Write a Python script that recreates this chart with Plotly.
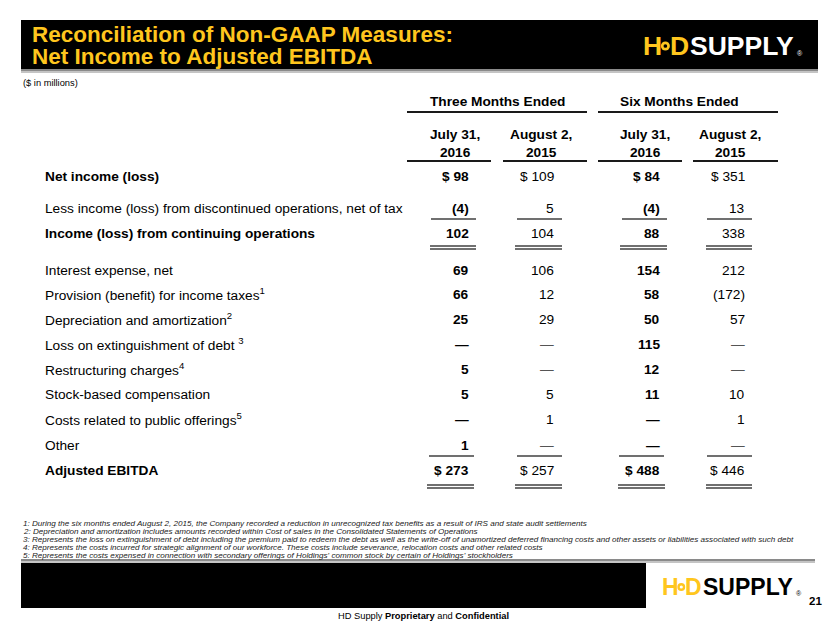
import plotly.graph_objects as go

# ---------------- data ----------------
title_lines = ["Reconciliation of Non-GAAP Measures:", "Net Income to Adjusted EBITDA"]
units_note = "($ in millions)"
group_headers = ["Three Months Ended", "Six Months Ended"]
col_headers = ["July 31,<br>2016", "August 2,<br>2015", "July 31,<br>2016", "August 2,<br>2015"]
col_bold = [True, False, True, False]

row_labels = [
    "Net income (loss)",
    "Less income (loss) from discontinued operations, net of tax",
    "Income (loss) from continuing operations",
    "Interest expense, net",
    "Provision (benefit) for income taxes<sup>1</sup>",
    "Depreciation and amortization<sup>2</sup>",
    "Loss on extinguishment of debt <sup>3</sup>",
    "Restructuring charges<sup>4</sup>",
    "Stock-based compensation",
    "Costs related to public offerings<sup>5</sup>",
    "Other",
    "Adjusted EBITDA",
]
row_bold = [True, False, True, False, False, False, False, False, False, False, False, True]

q3_2016 = ["$ 98", "(4)", "102", "69", "66", "25", "—", "5", "5", "—", "1", "$ 273"]
q3_2015 = ["$ 109", "5", "104", "106", "12", "29", "—", "—", "5", "1", "—", "$ 257"]
h1_2016 = ["$ 84", "(4)", "88", "154", "58", "50", "115", "12", "11", "—", "—", "$ 488"]
h1_2015 = ["$ 351", "13", "338", "212", "(172)", "57", "—", "—", "10", "1", "—", "$ 446"]
columns = [q3_2016, q3_2015, h1_2016, h1_2015]

footnotes = [
    "1: During the six months ended August 2, 2015, the Company recorded a reduction in unrecognized tax benefits as a result of IRS and state audit settlements",
    "2: Depreciation and amortization includes amounts recorded within Cost of sales in the Consolidated Statements of Operations",
    "3: Represents the loss on extinguishment of debt including the premium paid to redeem the debt as well as the write-off of unamortized deferred financing costs and other assets or liabilities associated with such debt",
    "4: Represents the costs incurred for strategic alignment of our workforce. These costs include severance, relocation costs and other related costs",
    "5: Represents the costs expensed in connection with secondary offerings of Holdings' common stock by certain of Holdings' stockholders",
]
footer_text = "HD Supply <b>Proprietary</b> and <b>Confidential</b>"
page_number = "21"

# ---------------- layout constants ----------------
W, H = 830, 623
FONT = "Liberation Sans, Arial, sans-serif"
YELLOW = "#FFC61E"
row_y = [176, 208, 233, 270, 294, 319, 344, 369, 394, 419, 445, 470]
col_right = [470, 555, 661, 746]
col_center = [455, 541, 645, 730]
group_center = [497, 679]
label_x = 44

fig = go.Figure()
fig.add_trace(go.Scatter(x=[0], y=[0], mode="markers", marker=dict(opacity=0), hoverinfo="skip", showlegend=False))

shapes = []
ann = []

def rect(x0, y0, x1, y1, color):
    shapes.append(dict(type="rect", xref="x", yref="y", x0=x0, x1=x1, y0=y0, y1=y1,
                       fillcolor=color, line=dict(width=0), layer="below"))

def hline(x0, x1, y, color="#404040", width=1.3):
    shapes.append(dict(type="line", xref="x", yref="y", x0=x0, x1=x1, y0=y, y1=y,
                       line=dict(color=color, width=width)))

def text(x, y, s, size, color="#000", xanchor="left", bold=False, italic=False, yanchor="middle", align="left"):
    if bold:
        s = "<b>" + s + "</b>"
    if italic:
        s = "<i>" + s + "</i>"
    ann.append(dict(x=x, y=y, xref="x", yref="y", text=s, showarrow=False, xanchor=xanchor,
                    yanchor=yanchor, align=align, borderpad=0,
                    font=dict(family=FONT, size=size, color=color)))

# title bar
rect(21, 20, 818, 69, "#000000")
rect(21, 69, 818, 71, "#8a8a8a")
rect(21, 71, 818, 73, "#c4c4c4")
text(31, 34, title_lines[0], 22.5, YELLOW, bold=True)
text(31, 56, title_lines[1], 22.5, YELLOW, bold=True)

def logo(xh, y, size, word_color, ring_bg):
    text(xh, y, "H", size, YELLOW, bold=True)
    hw = 0.722 * size
    cx = xh + hw + size * 0.16
    r = size * 0.17
    shapes.append(dict(type="circle", xref="x", yref="y", x0=cx - r, x1=cx + r, y0=y - r, y1=y + r,
                       fillcolor=YELLOW, line=dict(width=0)))
    r2 = size * 0.07
    shapes.append(dict(type="circle", xref="x", yref="y", x0=cx - r2, x1=cx + r2, y0=y - r2, y1=y + r2,
                       fillcolor=ring_bg, line=dict(width=0)))
    dx = cx + size * 0.12
    text(dx, y, "D", size, YELLOW, bold=True)
    sx = dx + 0.722 * size + 1
    text(sx, y, "SUPPLY", size, word_color, bold=True)
    text(sx + 4.0 * size + 1, y + size * 0.3, "®", 7, word_color)

logo(642, 46, 26.5, "#ffffff", "#000000")

text(22, 83, units_note, 9.3)

# group headers
for c, g in zip(group_center, group_headers):
    text(c, 101, g, 13.7, xanchor="center", bold=True)
hline(407, 587, 112, "#1a1a1a", 2.2)
hline(598, 778, 112, "#1a1a1a", 2.2)

# column headers
for c, h in zip(col_center, col_headers):
    text(c, 143, h, 13.7, xanchor="center", bold=True, align="center")
for x0, x1 in [(407, 491), (503, 587), (598, 682), (693, 778)]:
    hline(x0, x1, 161, "#1a1a1a", 2.2)

# row labels
for y, lab, b in zip(row_y, row_labels, row_bold):
    text(label_x, y, lab, 13.7, bold=b)

# values
for ci, (vals, xr, b) in enumerate(zip(columns, col_right, col_bold)):
    for y, v in zip(row_y, vals):
        color = "#000"
        if v == "—" and not b:
            color = "#555"
        text(xr, y, v, 13.7, color=color, xanchor="right", bold=b)

# rule lines
single1 = [(431, 476), (517, 562), (622, 667), (707, 752)]
double1 = [(430, 476), (515, 562), (620, 667), (706, 752)]
single2 = [(429, 474), (517, 562), (619, 664), (707, 752)]
double2 = [(427, 474), (515, 562), (618, 665), (706, 752)]
for x0, x1 in single1:
    hline(x0, x1, 219)
for x0, x1 in double1:
    hline(x0, x1, 246)
    hline(x0, x1, 249)
for x0, x1 in single2:
    hline(x0, x1, 456)
for x0, x1 in double2:
    hline(x0, x1, 485)
    hline(x0, x1, 488)

# footnotes
for i, f in enumerate(footnotes):
    text(22, 523 + 8 * i, f, 8.1, color="#222", italic=True)

# footer
rect(21, 559, 815, 561, "#8a8a8a")
rect(21, 561, 815, 563, "#c4c4c4")
rect(21, 563, 646, 608, "#000000")
logo(661, 587, 23, "#000000", "#ffffff")
text(815, 601, page_number, 11.5, xanchor="center", bold=True)
text(423, 616, footer_text, 9.3, xanchor="center")

fig.update_layout(
    width=W, height=H,
    margin=dict(l=0, r=0, t=0, b=0),
    paper_bgcolor="#ffffff", plot_bgcolor="#ffffff",
    xaxis=dict(range=[0, W], visible=False, fixedrange=True),
    yaxis=dict(range=[H, 0], visible=False, fixedrange=True),
    shapes=shapes, annotations=ann, showlegend=False,
)
fig.write_html("out.html", post_script="document.body.style.margin='0';document.body.style.overflow='hidden';",
               config={"displayModeBar": False})
